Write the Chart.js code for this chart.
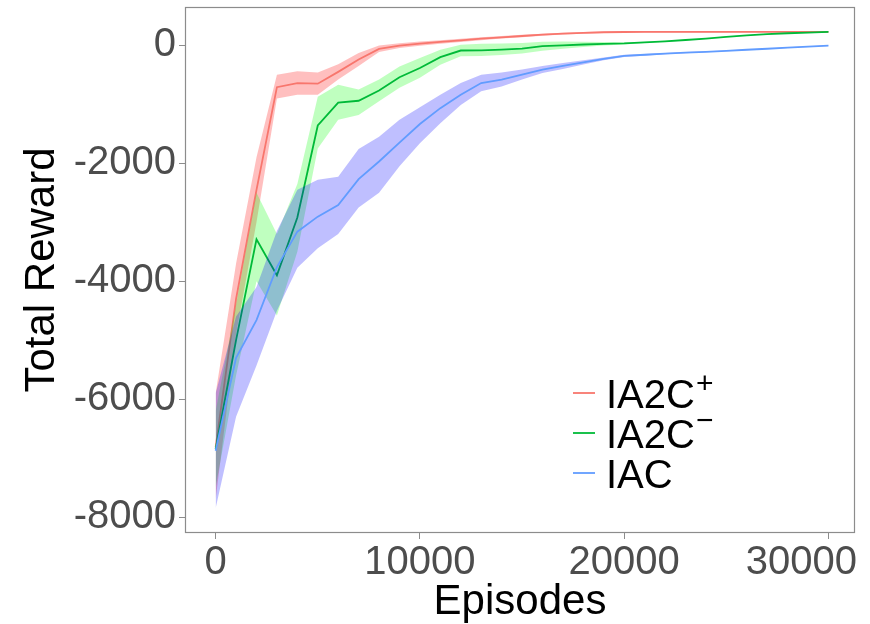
<!DOCTYPE html>
<html>
<head>
<meta charset="utf-8">
<script src="https://cdn.jsdelivr.net/npm/chart.js@4/dist/chart.umd.min.js"></script>
<style>
html,body{margin:0;padding:0;background:#fff;}
#wrap{width:870px;height:624px;}
</style>
</head>
<body>
<div id="wrap"><canvas id="c" width="870" height="624"></canvas></div>
<script>
// ---- data ----
const episodes = [0,1000,2000,3000,4000,5000,6000,7000,8000,9000,10000,11000,12000,13000,14000,15000,16000,17000,18000,19000,20000,21000,22000,23000,24000,25000,26000,27000,28000,29000,30000];

const seriesNames = ['IA2C', 'IA2C', 'IAC'];
const seriesSup = ['+', '\u2212', ''];

const ia2cPlusMean  = [-6820,-4300,-2450,-710,-640,-650,-450,-240,-60,-5,28,57,85,112,136,158,180,198,212,222,226,228,228,228,228,228,228,228,228,228,228];
const ia2cPlusLow   = [-7700,-4900,-3000,-900,-840,-840,-580,-350,-115,-45,-7,27,57,87,114,138,162,183,197,210,214,216,218,218,219,219,220,220,221,221,222];
const ia2cPlusHigh  = [-5900,-3700,-1900,-500,-440,-460,-320,-130,-5,35,63,87,113,137,158,178,198,213,227,234,238,240,238,238,237,237,236,236,235,235,234];

const ia2cMinusMean = [-6850,-5000,-3290,-3900,-2920,-1360,-970,-940,-765,-540,-385,-200,-88,-85,-73,-56,-15,0,14,25,32,50,68,90,115,145,170,190,205,217,228];
const ia2cMinusLow  = [-7500,-5600,-4000,-4580,-3500,-1750,-1260,-1180,-950,-720,-550,-330,-185,-180,-165,-140,-90,-60,-30,-5,15,38,60,84,110,140,165,185,200,212,222];
const ia2cMinusHigh = [-6200,-4400,-2500,-3200,-2350,-870,-670,-750,-580,-360,-215,-75,10,28,30,40,60,65,60,55,48,62,76,96,120,150,175,195,210,222,234];

const iacMean = [-6875,-5300,-4660,-3760,-3160,-2905,-2710,-2270,-1970,-1650,-1335,-1065,-838,-639,-583,-498,-410,-350,-290,-230,-180,-160,-140,-125,-110,-93,-75,-58,-40,-22,-5];
const iacLow  = [-7850,-6300,-5430,-4500,-3770,-3440,-3200,-2750,-2500,-2050,-1660,-1320,-1010,-780,-700,-580,-470,-400,-325,-255,-200,-175,-152,-135,-118,-100,-82,-64,-46,-28,-10];
const iacHigh = [-5900,-4600,-4100,-3150,-2450,-2280,-2230,-1760,-1550,-1260,-1050,-840,-640,-500,-460,-410,-350,-300,-255,-205,-160,-145,-128,-115,-102,-86,-68,-52,-34,-16,0];

const xTicks = [0, 10000, 20000, 30000];
const yTicks = [-8000, -6000, -4000, -2000, 0];

// ---- styling ----
const lineColors = ['#F8766D', '#00BA38', '#619CFF'];
const fillColors = ['rgba(255,0,0,0.25)', 'rgba(0,255,0,0.25)', 'rgba(0,0,255,0.25)'];
const FONT = "'Liberation Sans', Arial, Helvetica, sans-serif";

const toPts = arr => arr.map((v, i) => ({x: episodes[i], y: v}));

const series = [
  {mean: ia2cPlusMean, low: ia2cPlusLow, high: ia2cPlusHigh},
  {mean: ia2cMinusMean, low: ia2cMinusLow, high: ia2cMinusHigh},
  {mean: iacMean, low: iacLow, high: iacHigh}
];

const datasets = [];
let ord = 100;
series.forEach((s, k) => {
  const base = datasets.length;
  datasets.push({label: 'low' + k, data: toPts(s.low), borderWidth: 0, pointRadius: 0, fill: false, order: ord--});
  datasets.push({label: 'high' + k, data: toPts(s.high), borderWidth: 0, pointRadius: 0, fill: base, backgroundColor: fillColors[k], order: ord--});
  datasets.push({label: seriesNames[k] + (seriesSup[k] === '+' ? '\u207A' : seriesSup[k] ? '\u207B' : ''), data: toPts(s.mean), borderColor: lineColors[k], borderWidth: 1.8, pointRadius: 0, fill: false, order: ord--});
});

const noPad = s => { s.paddingTop = 0; s.paddingBottom = 0; s.paddingLeft = 0; s.paddingRight = 0; };

const framePlugin = {
  id: 'frame',
  beforeDraw(chart) {
    // keep the last x tick label inside the canvas (as in the reference)
    const sx = chart.scales.x;
    try {
      const items = sx._computeLabelItems(chart.chartArea);
      const last = items[items.length - 1];
      if (last && last.options && last.options.translation) {
        last.options.translation[0] = Math.min(last.options.translation[0], chart.width - 13 - last.options.translation[0] * 0 - 0);
        last.options.textAlign = 'right';
        last.options.translation[0] = 857;
      }
      sx._labelItems = items;
    } catch (e) {}
  },
  afterDatasetsDraw(chart) {
    const {ctx, chartArea: a} = chart;
    ctx.save();
    ctx.strokeStyle = '#8C8C8C';
    ctx.lineWidth = 1.2;
    ctx.strokeRect(a.left + 0.5, a.top + 0.5, a.right - a.left - 1, a.bottom - a.top - 1);
    ctx.restore();
  },
  afterDraw(chart) {
    const {ctx} = chart;
    const rowsY = [408, 448, 488];
    ctx.save();
    seriesNames.forEach((name, k) => {
      const by = rowsY[k];
      ctx.strokeStyle = lineColors[k];
      ctx.lineWidth = 1.8;
      ctx.beginPath();
      ctx.moveTo(573, by - 15);
      ctx.lineTo(595, by - 15);
      ctx.stroke();
      ctx.fillStyle = '#000';
      ctx.font = '40px ' + FONT;
      ctx.textBaseline = 'alphabetic';
      ctx.textAlign = 'left';
      ctx.fillText(name, 606, by);
      const w = ctx.measureText(name).width;
      if (seriesSup[k]) {
        ctx.font = '30px ' + FONT;
        ctx.fillText(seriesSup[k], 606 + w + 1, seriesSup[k] === '+' ? by - 15 : by - 18);
      }
    });
    ctx.restore();
  }
};

new Chart(document.getElementById('c'), {
  type: 'line',
  data: {datasets},
  plugins: [framePlugin],
  options: {
    responsive: false,
    animation: false,
    devicePixelRatio: 1,
    layout: {padding: {left: 0, top: 7, right: 15, bottom: 0}},
    elements: {line: {tension: 0}},
    plugins: {
      legend: {display: false},
      tooltip: {enabled: false},
      filler: {propagate: false}
    },
    scales: {
      x: {
        type: 'linear',
        min: -1500,
        max: 31300,
        afterFit: s => { s.height = 91; noPad(s); },
        afterBuildTicks: s => { s.ticks = xTicks.map(v => ({value: v})); },
        grid: {display: true, drawOnChartArea: false, drawTicks: true, tickLength: 6, color: '#8C8C8C'},
        border: {display: false},
        ticks: {color: '#4D4D4D', font: {family: FONT, size: 40}, padding: 0, maxRotation: 0, autoSkip: false, callback: v => String(v)},
        title: {display: true, text: 'Episodes', color: '#000', font: {family: FONT, size: 42, lineHeight: 1.0}, padding: {top: 0, bottom: 1}}
      },
      y: {
        type: 'linear',
        min: -8270,
        max: 650,
        afterFit: s => { s.width = 185; noPad(s); },
        afterBuildTicks: s => { s.ticks = yTicks.map(v => ({value: v})); },
        grid: {display: true, drawOnChartArea: false, drawTicks: true, tickLength: 6, color: '#8C8C8C'},
        border: {display: false},
        ticks: {color: '#4D4D4D', font: {family: FONT, size: 40}, padding: 3, autoSkip: false, callback: v => String(v)},
        title: {display: true, text: 'Total Reward', color: '#000', font: {family: FONT, size: 42}, padding: {top: 17, bottom: 0}}
      }
    }
  }
});
</script>
</body>
</html>
